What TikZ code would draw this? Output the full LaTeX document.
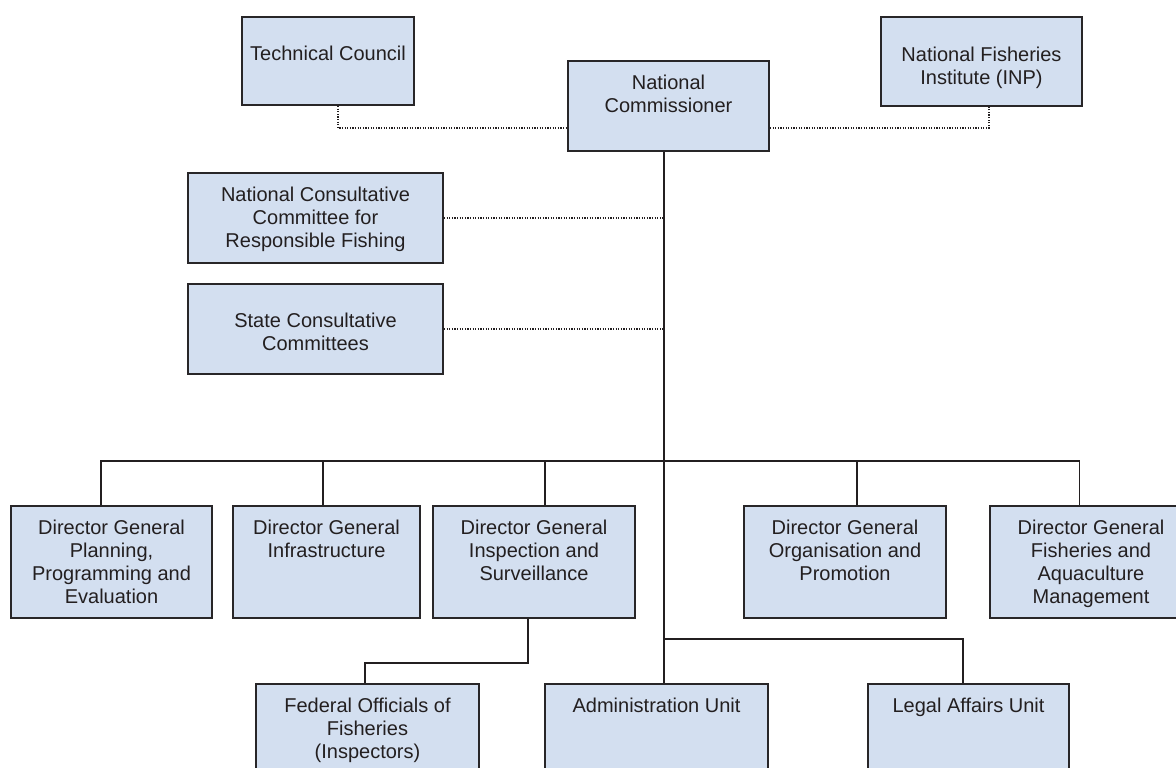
\documentclass[tikz,border=0pt]{standalone}
\usepackage{fontspec}
\setmainfont{Liberation Sans}
\definecolor{boxfill}{RGB}{211,223,240}
\definecolor{boxline}{RGB}{40,38,40}
\definecolor{ink}{RGB}{35,31,32}
\begin{document}
\begin{tikzpicture}[x=1pt,y=-1pt,
  orgbox/.style={draw=boxline, line width=2pt, fill=boxfill, inner sep=0pt, anchor=north west},
  txt/.style={anchor=north, align=center, inner sep=0pt, text=ink, font=\fontsize{20}{23}\selectfont},
  solidline/.style={draw=ink, line width=1.8pt},
  dotline/.style={draw=ink, line width=1.3pt, dash pattern=on 1.2pt off 1.4pt}]
\useasboundingbox (0,0) rectangle (1176,768);
\clip (0,0) rectangle (1176,768);
% boxes
\node[orgbox, minimum width=172pt, minimum height=88pt] (tc) at (241,16) {};
\node[orgbox, minimum width=201pt, minimum height=90pt] (nc) at (567,60) {};
\node[orgbox, minimum width=201pt, minimum height=89pt] (inp) at (880,16) {};
\node[orgbox, minimum width=255pt, minimum height=90pt] (ncc) at (187,172) {};
\node[orgbox, minimum width=255pt, minimum height=90pt] (scc) at (187,283) {};
\node[orgbox, minimum width=201pt, minimum height=112pt] (d1) at (10,505) {};
\node[orgbox, minimum width=187pt, minimum height=112pt] (d2) at (232,505) {};
\node[orgbox, minimum width=202pt, minimum height=112pt] (d3) at (432,505) {};
\node[orgbox, minimum width=202pt, minimum height=112pt] (d4) at (743,505) {};
\node[orgbox, minimum width=202pt, minimum height=112pt] (d5) at (989,505) {};
\node[orgbox, minimum width=223pt, minimum height=110pt] (fed) at (255,683) {};
\node[orgbox, minimum width=223pt, minimum height=110pt] (adm) at (544,683) {};
\node[orgbox, minimum width=201pt, minimum height=110pt] (leg) at (867,683) {};
% texts
\node[txt] at ([yshift=-30pt]tc.north) {Technical Council};
\node[txt] at ([yshift=-15pt]nc.north) {National\\Commissioner};
\node[txt] at ([yshift=-31pt]inp.north) {National Fisheries\\Institute (INP)};
\node[txt] at ([yshift=-15pt]ncc.north) {National Consultative\\Committee for\\Responsible Fishing};
\node[txt] at ([yshift=-30pt]scc.north) {State Consultative\\Committees};
\node[txt] at ([yshift=-15pt]d1.north) {Director General\\Planning,\\Programming and\\Evaluation};
\node[txt] at ([yshift=-15pt]d2.north) {Director General\\Infrastructure};
\node[txt] at ([yshift=-15pt]d3.north) {Director General\\Inspection and\\Surveillance};
\node[txt] at ([yshift=-15pt]d4.north) {Director General\\Organisation and\\Promotion};
\node[txt] at ([yshift=-15pt]d5.north) {Director General\\Fisheries and\\Aquaculture\\Management};
\node[txt] at ([yshift=-15pt]fed.north) {Federal Officials of\\Fisheries\\(Inspectors)};
\node[txt] at ([yshift=-15pt]adm.north) {Administration Unit};
\node[txt] at ([yshift=-15pt]leg.north) {Legal Affairs Unit};
% dotted links
\draw[dotline] ([xshift=10pt]tc.south) |- ([yshift=-22pt]nc.west);
\draw[dotline] ([yshift=-22pt]nc.east) -| ([xshift=7.5pt]inp.south);
\coordinate (trunk) at ([xshift=-4.5pt]nc.south);
\draw[dotline] (ncc.east) -- (ncc.east -| trunk);
\draw[dotline] (scc.east) -- (scc.east -| trunk);
% solid links
\draw[solidline] (trunk) -- (trunk |- adm.north);
\draw[solidline] ([xshift=-10.5pt]d1.north) -- ++(0,-44) -| ([xshift=-11.5pt]d5.north);
\draw[solidline] ([xshift=-3.5pt]d2.north) -- ++(0,-44);
\draw[solidline] ([xshift=11pt]d3.north) -- ++(0,-44);
\draw[solidline] ([xshift=12pt]d4.north) -- ++(0,-44);
\draw[solidline] (trunk |- leg.north) ++(0,-44) -| ([xshift=-5.5pt]leg.north);
\draw[solidline] ([xshift=-6pt]d3.south) -- ++(0,44) -| ([xshift=-2.5pt]fed.north);
\end{tikzpicture}
\end{document}
